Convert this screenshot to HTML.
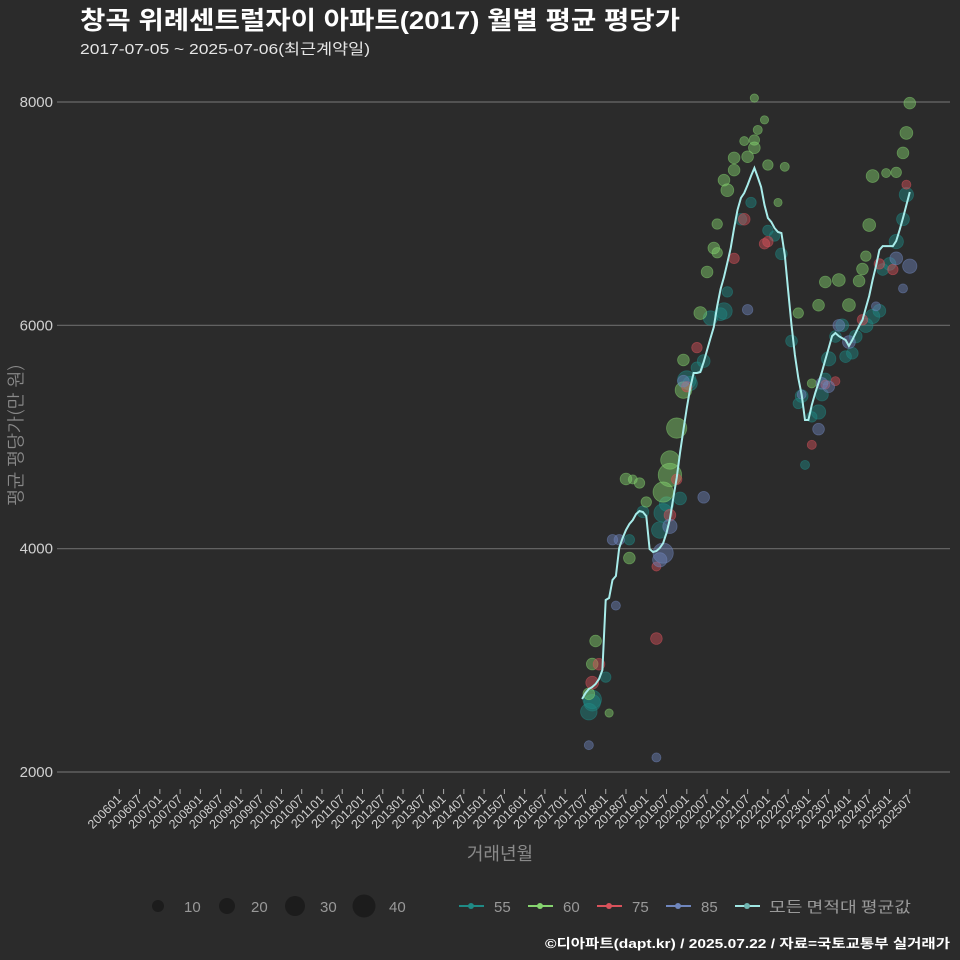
<!DOCTYPE html>
<html><head><meta charset="utf-8"><style>
html,body{margin:0;padding:0;background:#2b2b2b;}
svg{display:block;font-family:"Liberation Sans","Noto Sans CJK KR",sans-serif;}
.kr{font-family:"Noto Sans CJK KR","Liberation Sans",sans-serif;}
.yt{font-family:"NanumGothic","Noto Sans CJK KR",sans-serif;}
</style></head><body>
<svg id="chart" width="960" height="960" viewBox="0 0 960 960">
<rect width="960" height="960" fill="#2b2b2b"/>
<text x="80" y="29" fill="#fff" font-size="25" font-weight="bold" textLength="600" lengthAdjust="spacingAndGlyphs">창곡 위례센트럴자이 아파트(2017) 월별 평균 평당가</text>
<text x="80" y="54" fill="#e6e6e6" font-size="15" textLength="290" lengthAdjust="spacingAndGlyphs">2017-07-05 ~ 2025-07-06(최근계약일)</text>
<g id="grid"></g>
<g id="ylabels"></g>
<g id="xaxis"></g>
<g id="points"></g>
<g id="line"></g>
<g transform="translate(22 435) rotate(-90)">
<text class="yt" x="0" y="0" fill="#8a8a8a" font-size="18" text-anchor="middle">평균 평당가(만 원)</text>
</g>
<text class="kr" x="500" y="860" fill="#8a8a8a" font-size="18" text-anchor="middle">거래년월</text>
<g>
<circle cx="158" cy="906" r="6" fill="#1c1c1c"/>
<text x="184" y="912" fill="#999" font-size="15">10</text>
<circle cx="227" cy="906" r="8" fill="#1c1c1c"/>
<text x="251" y="912" fill="#999" font-size="15">20</text>
<circle cx="295" cy="906" r="10" fill="#1c1c1c"/>
<text x="320" y="912" fill="#999" font-size="15">30</text>
<circle cx="364" cy="906" r="11.5" fill="#1c1c1c"/>
<text x="389" y="912" fill="#999" font-size="15">40</text>
</g>
<g>
<line x1="459" y1="906" x2="484" y2="906" stroke="#1f8a85" stroke-width="2"/><circle cx="471" cy="906" r="3" fill="#1f8a85"/>
<text x="494" y="912" fill="#999" font-size="15">55</text>
<line x1="528" y1="906" x2="553" y2="906" stroke="#86d46f" stroke-width="2"/><circle cx="540" cy="906" r="3" fill="#86d46f"/>
<text x="563" y="912" fill="#999" font-size="15">60</text>
<line x1="597" y1="906" x2="622" y2="906" stroke="#d9525b" stroke-width="2"/><circle cx="609" cy="906" r="3" fill="#d9525b"/>
<text x="632" y="912" fill="#999" font-size="15">75</text>
<line x1="666" y1="906" x2="691" y2="906" stroke="#6f86bd" stroke-width="2"/><circle cx="678" cy="906" r="3" fill="#6f86bd"/>
<text x="701" y="912" fill="#999" font-size="15">85</text>
<line x1="735" y1="906" x2="760" y2="906" stroke="#9fe6e2" stroke-width="2"/><circle cx="747" cy="906" r="3" fill="#6fb5b1"/>
<text class="kr" x="769" y="912" fill="#999" font-size="15" textLength="142" lengthAdjust="spacingAndGlyphs">모든 면적대 평균값</text>
</g>
<text x="950" y="948" fill="#fff" font-size="13" font-weight="bold" text-anchor="end" textLength="405" lengthAdjust="spacingAndGlyphs">©디아파트(dapt.kr) / 2025.07.22 / 자료=국토교통부 실거래가</text>
</svg>
<script>
const yTicks = [2000, 4000, 6000, 8000];
const lineStart = [2017, 6];
const lineValues = [2654,2707,2743,2761,2788,2833,2913,3540,3558,3719,3755,4006,4095,4167,4221,4257,4310,4337,4328,4292,3997,3970,3979,4006,4051,4140,4266,4454,4633,4857,5063,5260,5439,5573,5573,5582,5672,5779,5886,5985,6173,6325,6433,6558,6692,6871,7033,7140,7185,7257,7337,7409,7328,7239,7078,6961,6925,6871,6836,6827,6630,6316,6003,5734,5528,5376,5152,5152,5287,5394,5484,5582,5690,5797,5904,5931,5904,5886,5869,5815,5869,5931,5994,6048,6155,6263,6406,6531,6675,6710,6710,6710,6710,6755,6854,6961,7078,7194];
// scatter: month offset from lineStart, value, count
const pts55 = [[3,2650,25],[2,2540,20],[3,2620,20],[7,2850,8],[14,4080,8],[18,4330,10],[24,4320,25],[23,4167,20],[25,4400,15],[29,4450,12],[31,5510,25],[32,5480,15],[34,5620,10],[36,5680,12],[38,6066,15],[42,6128,20],[41,6100,12],[43,6300,8],[47,6950,10],[50,7100,8],[55,6850,8],[59,6640,10],[57,6800,8],[62,5860,10],[64,5300,8],[65,5367,12],[66,4750,6],[68,5180,8],[70,5224,15],[71,5380,12],[72,5520,10],[73,5700,15],[75,5900,10],[77,6000,12],[78,5720,10],[80,5750,10],[81,5900,12],[84,6000,15],[86,6080,15],[88,6130,12],[89,6500,10],[91,6550,12],[93,6750,15],[95,6950,12],[96,7170,15]];
const pts60 = [[3,2967,10],[4,3173,10],[2,2700,10],[8,2528,5],[13,4624,10],[15,4620,6],[17,4588,8],[14,3916,10],[19,4418,8],[24,4507,30],[26,4660,40],[26,4794,25],[28,5080,30],[30,5420,20],[30,5690,10],[35,6110,12],[37,6478,10],[39,6692,10],[40,6907,8],[40,6650,8],[42,7300,10],[43,7210,12],[45,7390,10],[45,7500,10],[48,7650,6],[49,7510,10],[51,7590,10],[51,7660,8],[52,7750,6],[55,7436,8],[51,8035,5],[54,7840,5],[58,7100,5],[60,7420,6],[64,6110,8],[68,5480,6],[70,6180,10],[72,6388,10],[76,6406,12],[79,6182,12],[82,6397,10],[83,6504,10],[84,6620,8],[85,6898,12],[86,7337,12],[90,7364,6],[93,7370,8],[95,7544,10],[96,7723,12],[97,7990,10]];
const pts75 = [[5,2965,10],[3,2800,12],[22,3195,10],[22,3840,6],[26,4300,10],[28,4620,8],[31,5450,8],[34,5800,8],[45,6600,8],[48,6950,10],[55,6750,8],[54,6730,8],[68,4930,6],[72,5470,6],[75,5500,6],[83,6050,8],[88,6550,8],[92,6500,8],[96,7260,6]];
const pts85 = [[2,2240,6],[22,2130,6],[10,3490,6],[9,4080,8],[11,4080,8],[24,3960,30],[23,3900,15],[26,4200,15],[36,4460,10],[30,5500,10],[49,6140,8],[65,5380,6],[70,5070,10],[71,5480,10],[73,5450,10],[76,6000,10],[79,5850,12],[87,6170,6],[93,6600,12],[95,6330,6],[97,6530,15]];
const NS='http://www.w3.org/2000/svg';
function xScale(y,m){const idx=(y-2006)*12+(m-1);return 119.3+idx*3.378;}
function xOff(o){return xScale(lineStart[0],lineStart[1])+o*3.378;}
function yScale(v){return 772-(v-2000)*(670/6000);}
function mk(tag,attrs,parent){const e=document.createElementNS(NS,tag);for(const k in attrs)e.setAttribute(k,attrs[k]);parent.appendChild(e);return e;}
const grid=document.getElementById('grid'),yl=document.getElementById('ylabels');
yTicks.forEach(v=>{
  const l=mk('line',{x1:57,x2:950,y1:yScale(v),y2:yScale(v),stroke:'#6a6a6a','stroke-width':1.2},grid);
  
  
  const t=mk('text',{x:53,y:yScale(v)+5,fill:'#d0d0d0','font-size':15,'text-anchor':'end'},yl);
  t.textContent=v;
  
  
});
const xa=document.getElementById('xaxis');
for(let y=2006;y<=2025;y++){for(const m of [1,7]){
  const x=xScale(y,m);const lab=y+(m<10?'0':'')+m;
  const tk=mk('line',{x1:x,x2:x,y1:789,y2:794,stroke:'#aaa','stroke-width':1},xa);
  
  
  const t=mk('text',{x:x+3,y:800,fill:'#d0d0d0','font-size':12.5,'text-anchor':'end',transform:'rotate(-45 '+(x+3)+' 800)'},xa);
  t.textContent=lab;
  
  
}}
const pg=document.getElementById('points');
function drawPts(arr,col,name){arr.forEach(p=>{
  const c=mk('circle',{cx:xOff(p[0]),cy:yScale(p[1]),r:Math.sqrt(p[2])*1.85,fill:col,'fill-opacity':0.45,stroke:col,'stroke-opacity':0.5,'stroke-width':0.8},pg);
  
  
});}
drawPts(pts55,'#1f8a85','55');drawPts(pts60,'#86d46f','60');drawPts(pts75,'#d9525b','75');drawPts(pts85,'#6f86bd','85');
const d=lineValues.map((v,i)=>(i?'L':'M')+xOff(i).toFixed(1)+' '+yScale(v).toFixed(1)).join(' ');
const pl=mk('path',{d:d,fill:'none',stroke:'#a8ecea','stroke-width':2},document.getElementById('line'));


</script>
</body></html>
